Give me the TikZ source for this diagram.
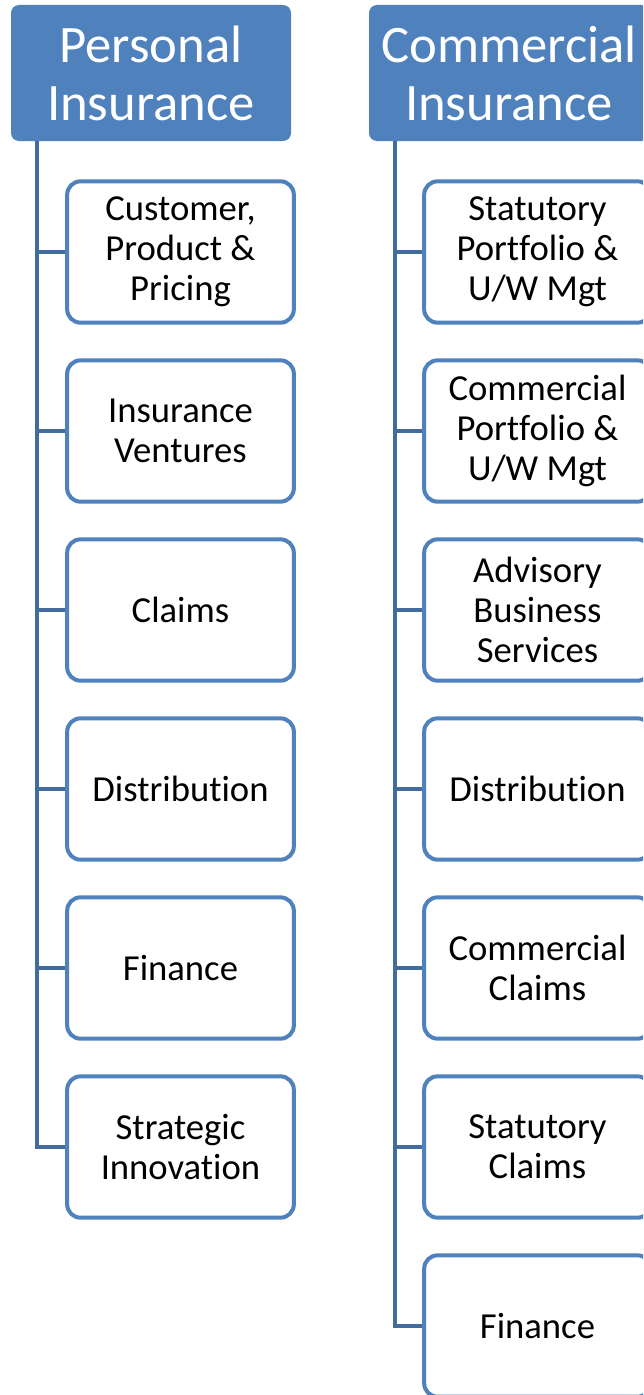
\documentclass[tikz,border=0pt]{standalone}
\usepackage{fontspec}
\setmainfont[Ligatures=NoCommon]{Carlito}
\usepackage{xcolor}
\definecolor{officeblue}{RGB}{79,129,189}
\definecolor{trunkblue}{RGB}{66,107,158}

\tikzset{
  head/.style={fill=officeblue, draw=none, rounded corners=6pt, text=white, align=center,
    minimum width=210pt, minimum height=102pt, inner sep=1pt,
    font=\fontsize{39.5}{43.5}\selectfont},
  unit/.style={fill=white, draw=officeblue, line width=3pt, rounded corners=10pt, align=center,
    minimum width=170pt, minimum height=106pt, inner sep=2pt,
    font=\fontsize{27.5}{30}\selectfont},
  trunk/.style={draw=trunkblue, line width=3pt}
}

\begin{document}
\begin{tikzpicture}[x=0.75pt, y=-0.75pt]

\useasboundingbox (0,0) rectangle (643,1395);
\clip (0,0) rectangle (643,1395);

%personal insurance
\node[head] at (151, 73)(pers){Personal\\Insurance};
\coordinate (ptop) at (37, 141);

\node[unit] at (180.5, 252)(p1){Customer,\\Product \&\\Pricing};
\node[unit] at (180.5, 431)(p2){Insurance\\Ventures};
\node[unit] at (180.5, 610)(p3){Claims};
\node[unit] at (180.5, 789)(p4){Distribution};
\node[unit] at (180.5, 968)(p5){Finance};
\node[unit] at (180.5, 1147)(p6){Strategic\\Innovation};

%branches
\draw[trunk] (ptop) |- (p6.west);
\draw[trunk] (ptop |- p1.west) -- (p1.west);
\draw[trunk] (ptop |- p2.west) -- (p2.west);
\draw[trunk] (ptop |- p3.west) -- (p3.west);
\draw[trunk] (ptop |- p4.west) -- (p4.west);
\draw[trunk] (ptop |- p5.west) -- (p5.west);

%commercial insurance
\node[head] at (509, 73)(comm){Commercial\\Insurance};
\coordinate (ctop) at (395, 141);

\node[unit] at (537.5, 252)(c1){Statutory\\Portfolio \&\\U/W Mgt};
\node[unit] at (537.5, 431)(c2){Commercial\\Portfolio \&\\U/W Mgt};
\node[unit] at (537.5, 610)(c3){Advisory\\Business\\Services};
\node[unit] at (537.5, 789)(c4){Distribution};
\node[unit] at (537.5, 968)(c5){Commercial\\Claims};
\node[unit] at (537.5, 1147)(c6){Statutory\\Claims};
\node[unit] at (537.5, 1326)(c7){Finance};

%branches
\draw[trunk] (ctop) |- (c7.west);
\draw[trunk] (ctop |- c1.west) -- (c1.west);
\draw[trunk] (ctop |- c2.west) -- (c2.west);
\draw[trunk] (ctop |- c3.west) -- (c3.west);
\draw[trunk] (ctop |- c4.west) -- (c4.west);
\draw[trunk] (ctop |- c5.west) -- (c5.west);
\draw[trunk] (ctop |- c6.west) -- (c6.west);

\end{tikzpicture}
\end{document}
